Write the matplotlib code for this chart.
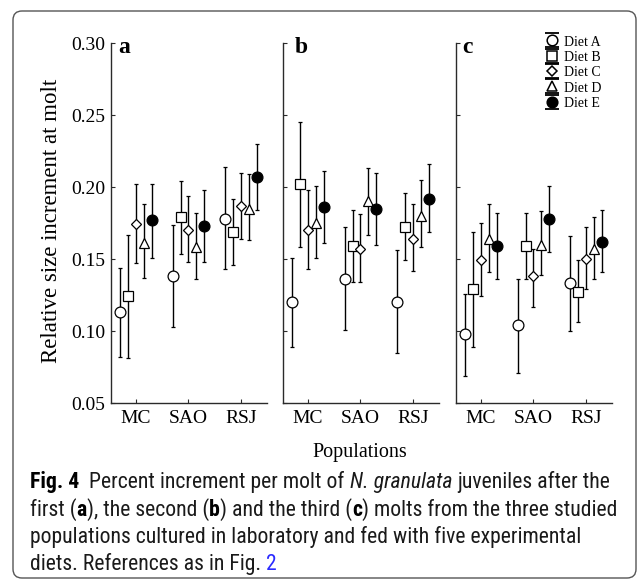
import matplotlib
matplotlib.use('Agg')
import matplotlib.pyplot as plt
import numpy as np
from matplotlib.path import Path
from matplotlib.legend_handler import HandlerTuple
from matplotlib.lines import Line2D
from matplotlib.patches import FancyBboxPatch
from matplotlib.transforms import IdentityTransform
from matplotlib import font_manager

# ---------------- data ----------------
populations = ['MC', 'SAO', 'RSJ']
diets = ['Diet A', 'Diet B', 'Diet C', 'Diet D', 'Diet E']
panel_letters = ['a', 'b', 'c']
y_ticks = [0.05, 0.10, 0.15, 0.20, 0.25, 0.30]

# panel a (first molt): rows = diets A..E, columns = MC, SAO, RSJ
mean_a = [[0.113, 0.138, 0.178],
          [0.124, 0.179, 0.169],
          [0.174, 0.170, 0.187],
          [0.161, 0.158, 0.185],
          [0.177, 0.173, 0.207]]
low_a = [[0.082, 0.103, 0.143],
         [0.081, 0.1535, 0.146],
         [0.147, 0.148, 0.164],
         [0.137, 0.136, 0.163],
         [0.151, 0.148, 0.184]]
high_a = [[0.1435, 0.1736, 0.214],
          [0.167, 0.204, 0.192],
          [0.202, 0.194, 0.210],
          [0.188, 0.182, 0.209],
          [0.202, 0.198, 0.230]]

# panel b (second molt)
mean_b = [[0.120, 0.136, 0.120],
          [0.202, 0.159, 0.172],
          [0.170, 0.157, 0.164],
          [0.175, 0.190, 0.180],
          [0.186, 0.185, 0.192]]
low_b = [[0.089, 0.101, 0.085],
         [0.158, 0.134, 0.149],
         [0.143, 0.134, 0.142],
         [0.151, 0.167, 0.158],
         [0.161, 0.160, 0.169]]
high_b = [[0.151, 0.172, 0.156],
          [0.245, 0.184, 0.196],
          [0.198, 0.181, 0.188],
          [0.201, 0.213, 0.205],
          [0.211, 0.210, 0.216]]

# panel c (third molt)
mean_c = [[0.098, 0.104, 0.133],
          [0.129, 0.159, 0.127],
          [0.149, 0.138, 0.150],
          [0.164, 0.160, 0.157],
          [0.159, 0.178, 0.162]]
low_c = [[0.069, 0.071, 0.100],
         [0.089, 0.136, 0.106],
         [0.124, 0.117, 0.129],
         [0.141, 0.139, 0.136],
         [0.136, 0.155, 0.141]]
high_c = [[0.126, 0.136, 0.166],
          [0.169, 0.182, 0.149],
          [0.175, 0.157, 0.172],
          [0.188, 0.183, 0.179],
          [0.182, 0.201, 0.184]]

panels = [(mean_a, low_a, high_a), (mean_b, low_b, high_b), (mean_c, low_c, high_c)]

# ---------------- style ----------------
offsets = [-0.30, -0.15, 0.0, 0.15, 0.30]
markers = ['o', 's', 'D', '^', 'o']
facecolors = ['white', 'white', 'white', 'white', 'black']
msizes = [7.8, 7.5, 5.5, 7.8, 7.8]
SERIF = ['Liberation Serif', 'DejaVu Serif']

W, H = 641, 582
fig = plt.figure(figsize=(W / 100, H / 100), dpi=100)
fig.patch.set_facecolor('white')


def fx(px):
    return px / W


def fy(py):
    return 1 - py / H


ax_lefts = [111, 283, 456]
ax_w = 156
top_px, bot_px = 43, 403
letter_x = [0.045, 0.077, 0.04]
spine_col = '#2a2a2a'

axes = []
for i, left in enumerate(ax_lefts):
    ax = fig.add_axes([fx(left), fy(bot_px), ax_w / W, (bot_px - top_px) / H])
    means, lows, highs = panels[i]
    x = np.arange(len(populations))
    for d in range(len(diets)):
        m = np.array(means[d])
        lo = np.array(lows[d])
        hi = np.array(highs[d])
        ax.errorbar(x + offsets[d], m, yerr=[m - lo, hi - m], fmt=markers[d],
                    mfc=facecolors[d], mec='black', mew=0.9, ms=msizes[d],
                    ecolor='black', elinewidth=1.0, capsize=1.6, capthick=1.0,
                    zorder=3)
    ax.set_xlim(-0.48, 2.5)
    ax.set_ylim(0.05, 0.30)
    ax.set_yticks(y_ticks)
    ax.set_xticks(x)
    ax.set_xticklabels(populations, family=SERIF, fontsize=14)
    if i == 0:
        ax.set_yticklabels(['%.2f' % v for v in y_ticks], family=SERIF, fontsize=14)
    else:
        ax.set_yticklabels([])
    ax.tick_params(axis='both', direction='in', length=3, width=0.8, color=spine_col)
    ax.tick_params(axis='x', pad=5)
    ax.tick_params(axis='y', pad=4)
    for s in ['top', 'right']:
        ax.spines[s].set_visible(False)
    for s in ['left', 'bottom']:
        ax.spines[s].set_linewidth(1.0)
        ax.spines[s].set_color(spine_col)
    ax.patch.set_alpha(0)
    ax.text(letter_x[i], 0.972, panel_letters[i], transform=ax.transAxes,
            family=SERIF, fontsize=17, weight='bold', va='baseline', ha='left')
    axes.append(ax)

# legend in panel c
caps_path = Path([(-1, 1), (1, 1), (-1, -1), (1, -1)],
                 [Path.MOVETO, Path.LINETO, Path.MOVETO, Path.LINETO])
handles = []
for d in range(len(diets)):
    caps = Line2D([], [], ls='none', marker=caps_path, ms=10.0, mec='black', mew=1.3)
    mk = Line2D([], [], ls='none', marker=markers[d], mfc=facecolors[d], mec='black',
                mew=1.1, ms=msizes[d] * 0.98)
    handles.append((caps, mk))
axes[2].legend(handles, diets, handler_map={tuple: HandlerTuple(ndivide=1)},
               loc='upper left', bbox_to_anchor=(0.568, 1.022), frameon=False,
               borderpad=0, borderaxespad=0, handlelength=1.0, handletextpad=0.42,
               labelspacing=0.13, handleheight=0.9, numpoints=1,
               prop={'family': SERIF, 'size': 10})

# axis titles
fig.text(fx(52), fy(221), 'Relative size increment at molt', rotation=90,
         ha='center', va='center', family=SERIF, fontsize=16.5)
fig.text(fx(360), fy(452), 'Populations', ha='center', va='center',
         family=SERIF, fontsize=14.5)

# rounded border around figure
border = FancyBboxPatch((13, 4), 623, 567, boxstyle='round,pad=0,rounding_size=9',
                        transform=IdentityTransform(), fill=False,
                        edgecolor='#555555', linewidth=1.0)
fig.patches.append(border)

# ---------------- caption ----------------
names = {f.name for f in font_manager.fontManager.ttflist}
cap_family = ['DejaVu Sans']
cap_stretch = 'normal'
for cand in ['Liberation Sans Narrow', 'Roboto Condensed', 'Open Sans Condensed']:
    if cand in names:
        cap_family = [cand, 'DejaVu Sans']
        break
else:
    if any(f.name == 'DejaVu Sans' and f.stretch == 'condensed'
           for f in font_manager.fontManager.ttflist):
        cap_family = ['DejaVu Sans']
        cap_stretch = 'condensed'
    elif 'Lato' in names:
        cap_family = ['Lato', 'DejaVu Sans']

renderer = fig.canvas.get_renderer()

REG = 'normal'
caption_lines = [
    [('Fig. 4', 'bold', 'normal', 'black'),
     ('  Percent increment per molt of ', REG, 'normal', '#1a1a1a'),
     ('N. granulata', REG, 'italic', '#1a1a1a'),
     (' juveniles after the', REG, 'normal', '#1a1a1a')],
    [('first (', REG, 'normal', '#1a1a1a'), ('a', 'bold', 'normal', 'black'),
     ('), the second (', REG, 'normal', '#1a1a1a'), ('b', 'bold', 'normal', 'black'),
     (') and the third (', REG, 'normal', '#1a1a1a'), ('c', 'bold', 'normal', 'black'),
     (') molts from the three studied', REG, 'normal', '#1a1a1a')],
    [('populations cultured in laboratory and fed with five experimental',
      REG, 'normal', '#1a1a1a')],
    [('diets. References as in Fig. ', REG, 'normal', '#1a1a1a'),
     ('2', REG, 'normal', '#2a2aff')],
]
baselines = [488, 516, 543, 570]


def text_width(s, size, weight=REG, style='normal'):
    t = fig.text(0, 0, s, fontsize=size, family=cap_family, weight=weight,
                 style=style, fontstretch=cap_stretch)
    w = t.get_window_extent(renderer).width
    t.remove()
    return w


def run_widths(runs, size):
    sp = text_width('a a', size) - text_width('aa', size)
    out = []
    for s, wt, st, col in runs:
        core = s.strip(' ')
        lead = len(s) - len(s.lstrip(' '))
        trail = len(s) - len(s.rstrip(' '))
        w = text_width(core, size, wt, st) if core else 0
        out.append((core, lead * sp, w, trail * sp, wt, st, col))
    return out


base = 10.0
tot = sum(a + b + c for _, a, b, c, *_ in run_widths(caption_lines[0], base))
cap_size = base * 578.0 / tot

for runs, yb in zip(caption_lines, baselines):
    x = 30.0
    for core, lead, w, trail, wt, st, col in run_widths(runs, cap_size):
        x += lead
        if core:
            fig.text(fx(x), fy(yb), core, fontsize=cap_size, family=cap_family,
                     weight=wt, style=st, color=col, fontstretch=cap_stretch,
                     va='baseline', ha='left')
        x += w + trail

fig.savefig('out.png', dpi=100, facecolor='white')
